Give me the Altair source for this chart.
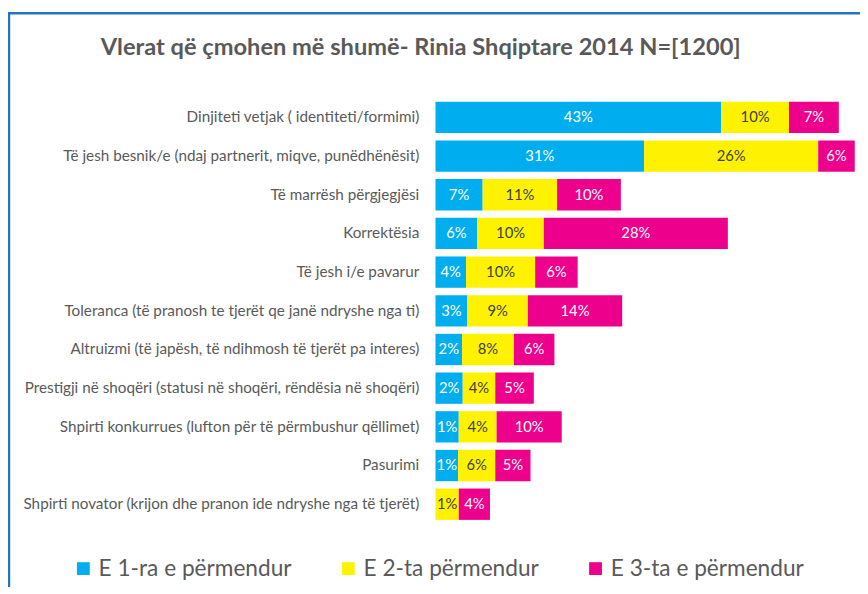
import altair as alt
import pandas as pd

title_text = "Vlerat që çmohen më shumë- Rinia Shqiptare 2014 N=[1200]"

categories = [
    "Dinjiteti vetjak ( identiteti/formimi)",
    "Të jesh besnik/e (ndaj partnerit, miqve, punëdhënësit)",
    "Të marrësh përgjegjësi",
    "Korrektësia",
    "Të jesh i/e pavarur",
    "Toleranca (të pranosh te tjerët qe janë ndryshe nga ti)",
    "Altruizmi (të japësh, të ndihmosh të tjerët pa interes)",
    "Prestigji në shoqëri (statusi në shoqëri, rëndësia në shoqëri)",
    "Shpirti konkurrues (lufton për të përmbushur qëllimet)",
    "Pasurimi",
    "Shpirti novator (krijon dhe pranon ide ndryshe nga të tjerët)",
]

series = ["E 1-ra e përmendur", "E 2-ta përmendur", "E 3-ta e përmendur"]
colors = ["#00AEEF", "#FFF200", "#EC008C"]

# bar lengths as drawn (percent)
first_vals = [43.0, 31.4, 7.1, 6.3, 4.6, 4.8, 4.0, 4.1, 3.5, 3.4, 0.0]
second_vals = [10.2, 26.2, 11.2, 10.0, 10.4, 9.1, 7.8, 4.9, 5.7, 5.6, 3.5]
third_vals = [7.5, 5.5, 9.6, 27.7, 6.4, 14.2, 6.1, 5.8, 9.8, 5.3, 4.7]

# printed labels
first_labels = ["43%", "31%", "7%", "6%", "4%", "3%", "2%", "2%", "1%", "1%", ""]
second_labels = ["10%", "26%", "11%", "10%", "10%", "9%", "8%", "4%", "4%", "6%", "1%"]
third_labels = ["7%", "6%", "10%", "28%", "6%", "14%", "6%", "5%", "10%", "5%", "4%"]

rows = []
for k, (vals, labs) in enumerate([(first_vals, first_labels),
                                  (second_vals, second_labels),
                                  (third_vals, third_labels)]):
    for c, v, l in zip(categories, vals, labs):
        rows.append({"category": c, "series": series[k], "order": k,
                     "value": v, "label": l})
df = pd.DataFrame(rows)

FONT = "Lato"
GREY = "#595959"

base = alt.Chart(df).transform_stack(
    stack="value", groupby=["category"], as_=["v0", "v1"],
    sort=[alt.SortField("order", order="ascending")]
).transform_calculate(mid="(datum.v0 + datum.v1) / 2")

y_enc = alt.Y("category:N", sort=categories, title=None,
              scale=alt.Scale(paddingInner=0.19, paddingOuter=0.095),
              axis=alt.Axis(ticks=False, domain=False, labelPadding=17,
                            labelFont=FONT, labelFontSize=15.5, labelColor=GREY,
                            labelLimit=500))

bars = base.transform_filter("datum.value > 0").mark_bar().encode(
    y=y_enc,
    x=alt.X("v0:Q", scale=alt.Scale(domain=[0, 63], nice=False), axis=None),
    x2="v1:Q",
    color=alt.Color("series:N", scale=alt.Scale(domain=series, range=colors),
                    legend=alt.Legend(orient="none", legendX=-369, legendY=466,
                                      direction="horizontal", title=None,
                                      symbolType="square", symbolSize=170,
                                      symbolStrokeWidth=0,
                                      labelFont=FONT, labelFontSize=23,
                                      labelColor=GREY, columnPadding=46,
                                      labelOffset=4, labelLimit=400)),
)

texts = base.transform_filter("datum.label != ''").mark_text(
    font=FONT, fontSize=15
).encode(
    y=alt.Y("category:N", sort=categories),
    x=alt.X("mid:Q"),
    text="label:N",
    color=alt.condition("datum.order == 1", alt.value("#404040"), alt.value("white")),
)

one = pd.DataFrame({"t": [title_text]})
BORDER = "#2474C4"
left_border = alt.Chart(one).mark_rule(color=BORDER, strokeWidth=2.5).encode(
    x=alt.value(-433), y=alt.value(-86), y2=alt.value(600))
top_border = alt.Chart(one).mark_rule(color=BORDER, strokeWidth=2.5).encode(
    y=alt.value(-86), x=alt.value(-434), x2=alt.value(600))

title = alt.Chart(one).mark_text(
    font=FONT, fontSize=24, fontWeight="bold", color=GREY,
    align="center", baseline="middle"
).encode(x=alt.value(-15), y=alt.value(-51), text="t:N")

chart = alt.layer(bars, texts, left_border, top_border, title).properties(
    width=425, height=432,
    autosize=alt.AutoSizeParams(type="none"),
    padding={"left": 434, "top": 87, "right": 6, "bottom": 60},
    background="white",
).configure_view(stroke=None)

chart.save("out.html", embed_options={"renderer": "svg", "actions": False})
